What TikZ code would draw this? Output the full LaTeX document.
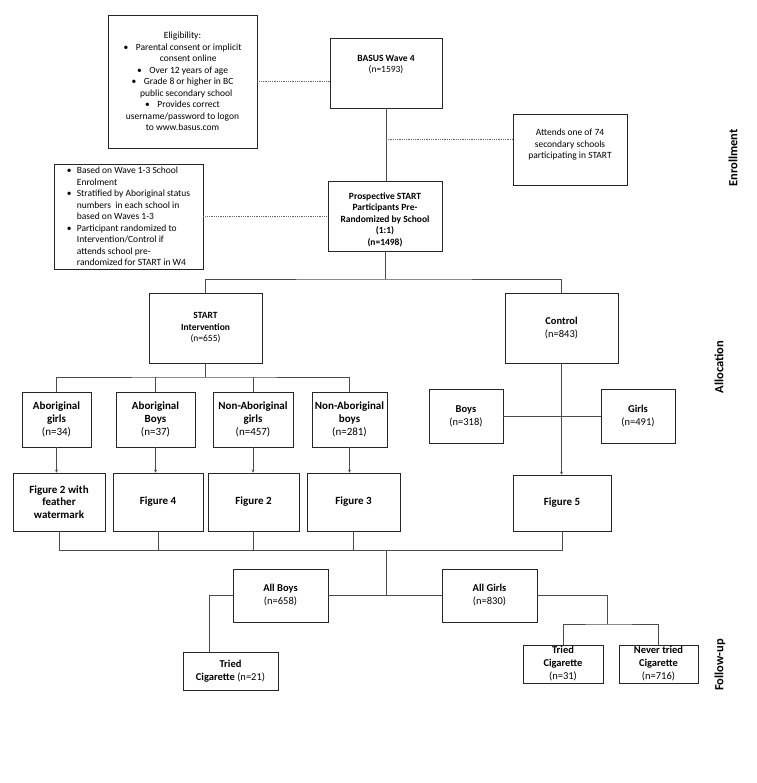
\documentclass[tikz,border=0pt]{standalone}
\usepackage{fontspec}
\setmainfont{Carlito}
\usetikzlibrary{arrows.meta,calc}
\begin{document}
\begin{tikzpicture}[x=1pt,y=-1pt,
 box/.style={draw=black!85, line width=0.8pt, rectangle, inner sep=1pt, align=center},
 conn/.style={draw=black!70, line width=0.6pt},
 dotline/.style={draw=black!60, line width=0.5pt, dash pattern=on 1pt off 0.8pt},
 arr/.style={conn, -{Stealth[length=3pt,width=3pt]}},
 fA/.style={font=\fontsize{9.5}{11.5}\selectfont},
 fB/.style={font=\fontsize{10.5}{13}\selectfont},
 fC/.style={font=\fontsize{11}{12.5}\selectfont\bfseries},
 sec/.style={font=\fontsize{12.5}{15}\selectfont\bfseries, rotate=90}
]
\useasboundingbox (0,0) rectangle (756,783);

% Enrollment
\node[box,fA,minimum width=149pt,minimum height=133pt] (elig) at (182.5,81.5)
 {Eligibility:\\
  \textbullet\hspace{0.8em}Parental consent or implicit\\
  \hspace*{1.2em}consent online\\
  \textbullet\hspace{0.8em}Over 12 years of age\\
  \textbullet\hspace{0.8em}Grade 8 or higher in BC\\
  \hspace*{0.8em}public secondary school\\
  \textbullet\hspace{0.8em}Provides correct\\
  username/password to logon\\
  to www.basus.com};
\node[box,fA,minimum width=112pt,minimum height=70pt] (basus) at (386,73)
 {\textbf{BASUS Wave 4}\\(n=1593)\\[6.5pt]\mbox{}};
\node[box,fA,minimum width=114pt,minimum height=71pt] (attends) at (570,149.5)
 {Attends one of 74\\secondary schools\\participating in START\\[0pt]\mbox{}};
\node[box,fA,font=\fontsize{9.5}{11.5}\selectfont\bfseries,minimum width=114pt,minimum height=70pt] (prosp) at (385,216)
 {\mbox{}\\[2.5pt]Prospective START\\Participants Pre-\\Randomized by School\\(1:1)\\(n=1498)};
\node[box,fA,align=left,minimum width=149pt,minimum height=105pt] (based) at (128.5,216.5)
 {\makebox[10pt][l]{\textbullet}Based on Wave 1-3 School\\
  \hspace*{10pt}Enrolment\\
  \makebox[10pt][l]{\textbullet}Stratified by Aboriginal status\\
  \hspace*{10pt}numbers\ \ in each school in\\
  \hspace*{10pt}based on Waves 1-3\\
  \makebox[10pt][l]{\textbullet}Participant randomized to\\
  \hspace*{10pt}Intervention/Control if\\
  \hspace*{10pt}attends school pre-\\
  \hspace*{10pt}randomized for START in W4};

% Allocation
\node[box,fA,minimum width=113pt,minimum height=70pt] (start) at (205.5,328)
 {\textbf{START}\\\textbf{Intervention}\\(n=655)};
\node[box,fB,minimum width=113pt,minimum height=70pt] (control) at (561.5,328)
 {\textbf{Control}\\(n=843)};

\node[box,fB,font=\fontsize{11}{13}\selectfont,minimum width=69pt,minimum height=55pt] (abg) at (56.5,419.5)
 {\textbf{Aboriginal}\\\textbf{girls}\\(n=34)};
\node[box,fB,font=\fontsize{11}{13}\selectfont,minimum width=79pt,minimum height=55pt] (abb) at (155.5,419.5)
 {\textbf{Aboriginal}\\\textbf{Boys}\\(n=37)};
\node[box,fB,font=\fontsize{11}{13}\selectfont,minimum width=80pt,minimum height=55pt] (nag) at (253,419.5)
 {\textbf{Non-Aboriginal}\\\textbf{girls}\\(n=457)};
\node[box,fB,font=\fontsize{11}{13}\selectfont,minimum width=75pt,minimum height=55pt] (nab) at (349.5,419.5)
 {\textbf{Non-Aboriginal}\\\textbf{boys}\\(n=281)};

\node[box,fB,minimum width=74pt,minimum height=54pt] (boys) at (466,416)
 {\textbf{Boys}\\(n=318)};
\node[box,fB,minimum width=74pt,minimum height=54pt] (girls) at (638,416)
 {\textbf{Girls}\\(n=491)};

\node[box,fC,minimum width=92pt,minimum height=58pt] (f2w) at (59,502)
 {Figure 2 with\\feather\\watermark};
\node[box,fC,minimum width=90pt,minimum height=58pt] (f4) at (158,502) {Figure 4};
\node[box,fC,minimum width=91pt,minimum height=58pt] (f2) at (253.5,502) {Figure 2};
\node[box,fC,minimum width=93pt,minimum height=58pt] (f3) at (353.5,502) {Figure 3};
\node[box,fC,minimum width=98pt,minimum height=56pt] (f5) at (562,503) {Figure 5};

% Follow-up
\node[box,fB,minimum width=95pt,minimum height=53pt] (allboys) at (280.5,595.5)
 {\textbf{All Boys}\\(n=658)};
\node[box,fB,minimum width=95pt,minimum height=53pt] (allgirls) at (489.5,595.5)
 {\textbf{All Girls}\\(n=830)};
\node[box,fB,minimum width=95pt,minimum height=38pt] (triedb) at (230.5,671)
 {\textbf{Tried}\\\textbf{Cigarette} (n=21)};
\node[box,fB,minimum width=80pt,minimum height=38pt] (triedg) at (563,664)
 {\textbf{Tried}\\\textbf{Cigarette}\\(n=31)};
\node[box,fB,minimum width=79pt,minimum height=38pt] (never) at (658.5,664)
 {\textbf{Never tried}\\\textbf{Cigarette}\\(n=716)};

% Section labels
\node[sec] (enr) at (733,158) {Enrollment};
\node[sec] (alloc) at (719,367) {Allocation};
\node[sec] (fu) at (720,665) {Follow-up};

% Connectors
\draw[dotline] (elig.east) -- (elig.east -| basus.west);
\coordinate (j1) at (386,139);
\draw[conn] (basus.south) -- (basus.south |- prosp.north);
\draw[dotline] (j1) -- (j1 -| attends.west);
\draw[dotline] (based.east) -- (based.east -| prosp.west);

\coordinate (j2) at (385,279);
\draw[conn] (prosp.south) -- (j2);
\draw[conn] (start.north) |- (j2) -| (control.north);

\coordinate (j3) at (205.5,377);
\draw[conn] (start.south) -- (j3);
\draw[conn] (abg.north) |- (j3) -| (nab.north);
\draw[conn] (abb.north) -- (abb.north |- j3);
\draw[conn] (nag.north) -- (nag.north |- j3);

\draw[arr] (abg.south) -- (abg.south |- f2w.north);
\draw[arr] (abb.south) -- (abb.south |- f4.north);
\draw[arr] (nag.south) -- (nag.south |- f2.north);
\draw[arr] (nab.south) -- (nab.south |- f3.north);

\draw[arr] (control.south) -- (control.south |- f5.north);
\draw[conn] (boys.east) -- (girls.west);

\coordinate (j4) at (386,550);
\draw[conn] (f2w.south) |- (f5.south |- j4) -- (f5.south);
\draw[conn] (f4.south) -- (f4.south |- j4);
\draw[conn] (f2.south) -- (f2.south |- j4);
\draw[conn] (f3.south) -- (f3.south |- j4);
\draw[conn] (j4) -- (j4 |- allboys.east);
\draw[conn] (allboys.east) -- (allgirls.west);

\draw[conn] (allboys.west) -| ([xshift=-21.5pt]triedb.north);
\coordinate (j6) at (607,624);
\draw[conn] (allgirls.east) -| (j6);
\draw[conn] (triedg.north) |- (j6) -| (never.north);
\end{tikzpicture}
\end{document}
